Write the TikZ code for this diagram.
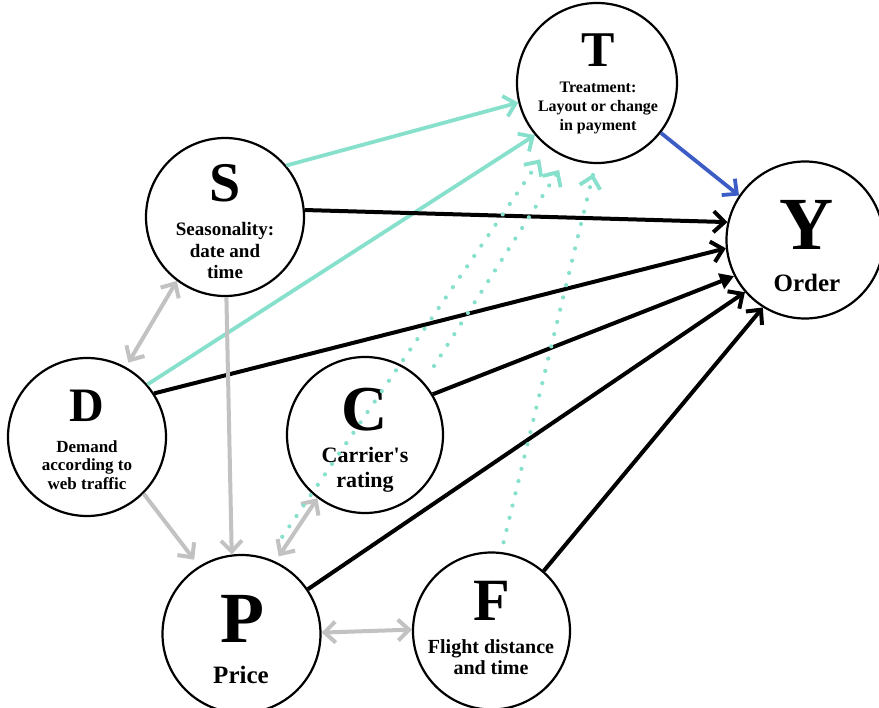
\documentclass[tikz,border=0pt]{standalone}
\usepackage{fontspec}
\setmainfont{Liberation Serif}
\usetikzlibrary{arrows.meta,calc,decorations.markings}
\definecolor{mint}{RGB}{134,224,203}
\definecolor{edgeblue}{RGB}{60,92,198}
\definecolor{edgegray}{RGB}{194,194,194}

\begin{document}
\begin{tikzpicture}[x=1pt,y=-1pt,
    var/.style={circle,draw,line width=2.2pt,minimum size=#1,inner sep=0pt},
    var/.default=158pt,
    big/.style={font=\bfseries\fontsize{#1}{#1}\selectfont,inner sep=0pt,anchor=base},
    cap/.style 2 args={font=\bfseries\fontsize{#1}{#2}\selectfont,align=center,inner sep=0pt},
    >={Straight Barb[length=11pt,width=21pt]},
    blk/.style={->,line width=4pt},
    mnt/.style={->,mint,line width=3.8pt},
    gry/.style={->,edgegray,line width=4pt},
    dots/.style={mint,line width=4.2pt,line cap=round,dash pattern=on 0pt off 12.6pt,
        postaction={decorate},
        decoration={markings,mark=at position 1 with
            {\pgfsetdash{}{0pt}\arrow[line width=3.8pt]{Straight Barb[length=11pt,width=21pt]}}}}]
    \useasboundingbox (0,0) rectangle (879,708);
    \node[var=160pt] (T) at (597,83) {};
    \node[var] (S) at (225,217) {};
    \node[var=157pt] (Y) at (805,240) {};
    \node[var] (D) at (87,437) {};
    \node[var=156pt] (C) at (365,435) {};
    \node[var] (P) at (241.5,634) {};
    \node[var=157pt] (F) at (491.5,631) {};
    \node[big=50] (Tl) at (598,67) {T};
    \node[cap={16}{19}] (Tc) at (598,108) {Treatment:\\Layout or change\\in payment};
    \node[big=56] (Sl) at (225,202) {S};
    \node[cap={19}{21.5}] (Sc) at (225,251) {Seasonality:\\date and\\time};
    \node[big=75] (Yl) at (807,250) {Y};
    \node[cap={25}{28}] (Yc) at (807,283) {Order};
    \node[big=48] (Dl) at (87,422) {D};
    \node[cap={17}{18.5}] (Dc) at (87,465) {Demand\\according to\\web traffic};
    \node[big=64] (Cl) at (365,431) {C};
    \node[cap={22}{25}] (Cc) at (365,470) {Carrier\textquotesingle s\\rating};
    \node[big=72] (Pl) at (242,642) {P};
    \node[cap={25}{28}] (Pc) at (241,675) {Price};
    \node[big=60] (Fl) at (492,620) {F};
    \node[cap={20}{21}] (Fc) at (491,657) {Flight distance\\and time};
    \draw[mnt] (S.40) -- (T.194);
    \draw[mnt] (D.41) -- (T.220);
    \draw[->,edgeblue,line width=3.8pt] (T.322) -- (Y.146);
    \draw[blk] (S.5) -- (Y.167);
    \draw[blk] (D.33) -- (Y.186);
    \draw[blk,-{Triangle[length=14pt,width=16pt]}] (C.31) -- (Y.207);
    \draw[blk] (P.34) -- (Y.221);
    \draw[blk] (F.49) -- (Y.238);
    \draw[gry,<->,shorten >=5pt] (S.233) -- (D.61);
    \draw[gry] (S.271) -- (P.97);
    \draw[gry,shorten >=8pt] (D.315) -- (P.122);
    \draw[gry,<->,shorten >=6pt] (C.233) -- (P.65);
    \draw[gry,<->] (P.1) -- (F.179);
    \draw[dots] ($(P.71)!26pt!(T.233)$) -- ($(T.233)!14pt!(P.71)$);
    \draw[dots] ($(C.42)!19pt!(T.248)$) -- ($(T.248)!14pt!(C.42)$);
    \draw[dots] ($(F.83)!10pt!(T.269)$) -- ($(T.269)!10pt!(F.83)$);
\end{tikzpicture}
\end{document}
